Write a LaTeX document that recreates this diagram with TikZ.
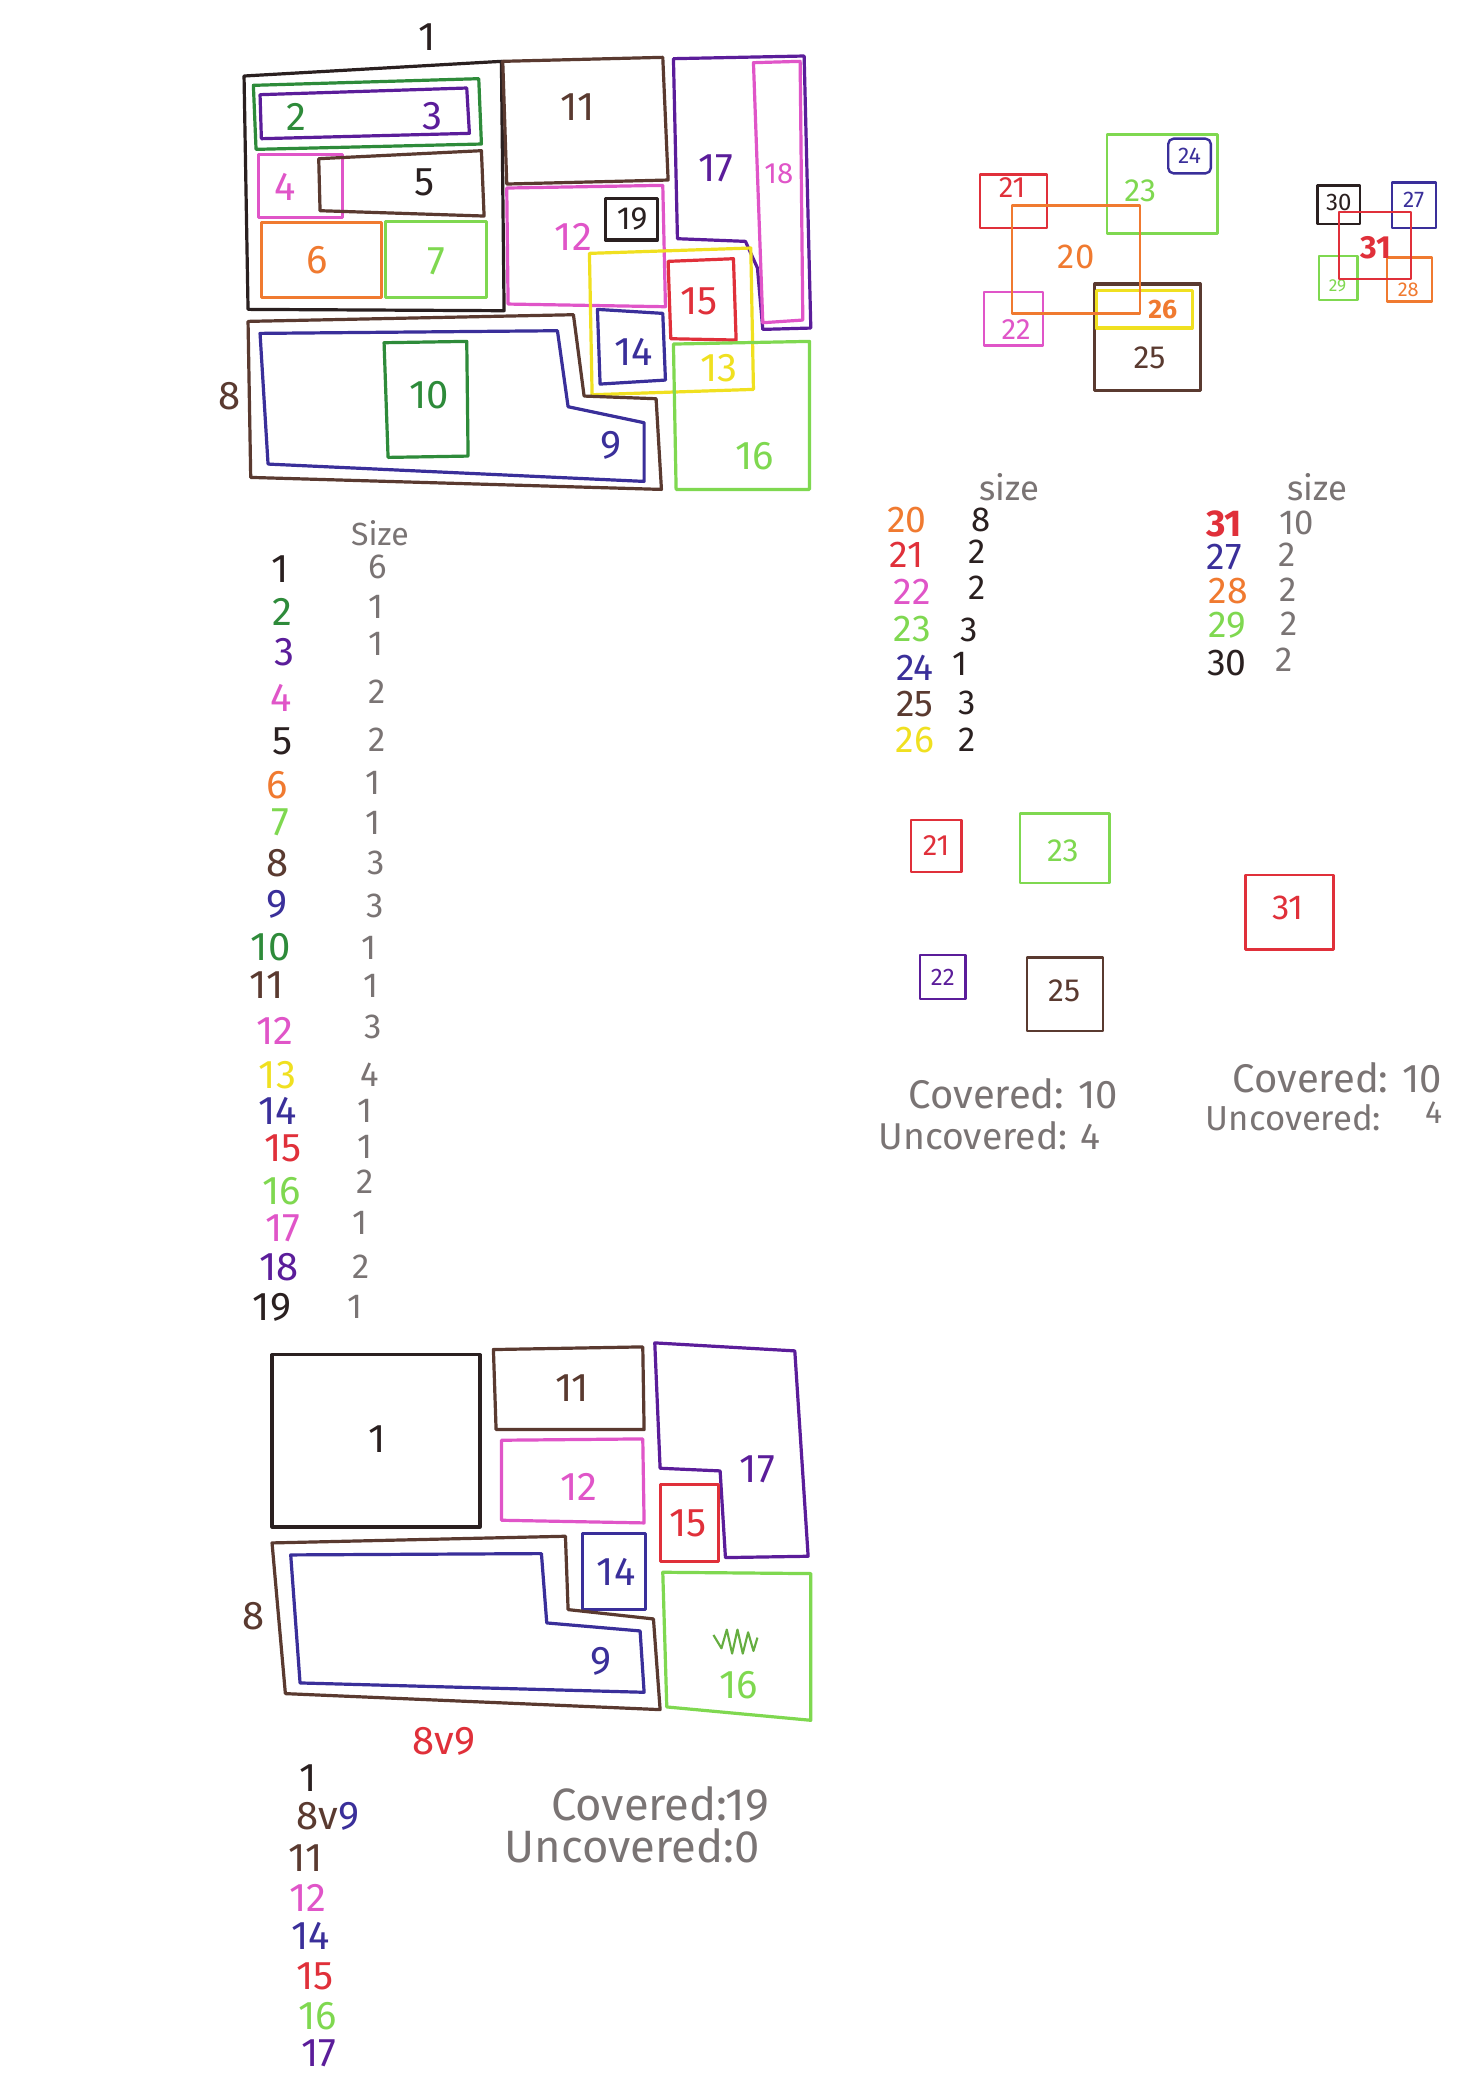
\documentclass[tikz,border=0pt]{standalone}
\usepackage{fontspec}
\setmainfont{Fira Sans}
\newcommand{\myfs}[1]{\fontsize{#1}{#1}\selectfont}
\definecolor{cblack}{HTML}{2A2020}
\definecolor{cbrown}{HTML}{5A3A30}
\definecolor{cdgreen}{HTML}{2E8B3A}
\definecolor{cpurple}{HTML}{5B1D9A}
\definecolor{cindigo}{HTML}{3A2F9A}
\definecolor{cpink}{HTML}{E055C8}
\definecolor{corange}{HTML}{F07A30}
\definecolor{clgreen}{HTML}{7FD850}
\definecolor{cyellow}{HTML}{F0E020}
\definecolor{cred}{HTML}{E0303A}
\definecolor{cgrey}{HTML}{7A7474}
\begin{document}
\begin{tikzpicture}[x=1pt,y=-1pt,
  pen/.style={line width=2.4pt, line join=round, line cap=round},
  thinpen/.style={line width=1.8pt, line join=round, line cap=round},
  lb/.style={inner sep=0pt, font=\myfs{#1}},
  lb/.default=30]
\useasboundingbox (0,0) rectangle (1093,1568);
\fill[white] (0,0) rectangle (1093,1568);

% ================= top-left packing =================
\node[lb,cblack] (t1) at (320,28) {1};
\draw[pen,cblack] (183,57) -- (376,46) -- (378,233) -- (186,232) -- cycle;
\draw[pen,cdgreen] (190,64) -- (359,59) -- (361,108) -- (192,112) -- cycle;
\draw[pen,cpurple] (195,71) -- (350,66) -- (352,100) -- (196,104) -- cycle;
\node[lb,cdgreen] (t2) at (222,88) {2};
\node[lb,cpurple] (t3) at (324,87) {3};
\draw[pen,cpink] (194,116) rectangle (257,163);
\draw[pen,cbrown] (239,119) -- (361,113) -- (363,162) -- (240,158) -- cycle;
\node[lb,cpink] (t4) at (214,140) {4};
\node[lb,cblack] (t5) at (318,137) {5};
\draw[pen,corange] (196,167) rectangle (286,223);
\draw[pen,clgreen] (289,166) rectangle (365,223);
\node[lb,corange] (t6) at (238,195) {6};
\node[lb,clgreen] (t7) at (327,196) {7};

\draw[pen,cbrown] (377,46) -- (497,43) -- (501,135) -- (380,138) -- cycle;
\node[lb,cbrown] (t11) at (433,80) {11};

\draw[pen,cpurple] (505,44) -- (603,42) -- (608,246) -- (572,247) -- (568,201) -- (559,181) -- (508,179) -- cycle;
\draw[pen,cpink] (565,47) -- (600,46) -- (602,240) -- (572,242) -- cycle;
\node[lb,cpurple] (t17) at (537,126) {17};
\node[lb=22,cpink] (t18) at (584,130) {18};

\draw[pen,cpink] (380,141) -- (497,139) -- (499,230) -- (381,228) -- cycle;
\draw[pen,cblack] (454,149) rectangle (493,180);
\node[lb=24,cblack] (t19) at (474,164) {19};
\node[lb,cpink] (t12) at (430,178) {12};

\draw[pen,cyellow] (442,190) -- (563,186) -- (565,292) -- (444,296) -- cycle;
\draw[pen,cred] (501,196) -- (550,194) -- (552,255) -- (503,254) -- cycle;
\node[lb,cred] (t15) at (524,226) {15};
\draw[pen,cindigo] (448,232) -- (497,235) -- (499,285) -- (450,288) -- cycle;
\node[lb,cindigo] (t14) at (475,264) {14};
\draw[pen,clgreen] (505,258) -- (607,256) -- (607,367) -- (507,367) -- cycle;
\node[lb,cyellow] (t13) at (539,276) {13};
\node[lb,clgreen] (t16) at (566,342) {16};

\draw[pen,cbrown] (186,241) -- (430,236) -- (438,297) -- (492,299) -- (496,367) -- (188,358) -- cycle;
\node[lb,cbrown] (t8) at (172,297) {8};
\draw[pen,cindigo] (195,250) -- (418,248) -- (426,305) -- (483,317) -- (483,361) -- (201,348) -- cycle;
\node[lb,cindigo] (t9) at (458,334) {9};
\draw[pen,cdgreen] (288,257) -- (350,256) -- (351,342) -- (291,343) -- cycle;
\node[lb,cdgreen] (t10) at (322,296) {10};

% ================= top-right cluster A =================
\draw[pen,cbrown] (821,213) rectangle (900,293);
\node[lb=24,cbrown] (u25) at (862,268) {25};
\draw[pen,cyellow] (822,218) rectangle (894,246);
\node[lb=20,corange,font=\myfs{20}\bfseries] (u26) at (872,232) {26};
\draw[thinpen,cred] (735,131) rectangle (785,171);
\node[lb=22,cred] (u21) at (759,141) {21};
\draw[thinpen,cpink] (738,219) rectangle (782,259);
\node[lb=22,cpink] (u22) at (762,247) {22};
\draw[thinpen,clgreen] (830,101) rectangle (913,175);
\node[lb=24,clgreen] (u23) at (855,143) {23};
\draw[thinpen,cindigo,rounded corners=4pt] (876,104) rectangle (908,130);
\node[lb=17,cindigo] (u24) at (892,117) {24};
\draw[thinpen,corange] (759,154) rectangle (855,235);
\node[lb=26,corange] (u20) at (807,193) {20};

% ================= top-right cluster B =================
\draw[thinpen,cblack] (988,139) rectangle (1020,168);
\node[lb=18,cblack] (v30) at (1004,152) {30};
\draw[thinpen,cindigo] (1044,137) rectangle (1077,171);
\node[lb=17,cindigo] (v27) at (1060,150) {27};
\draw[thinpen,clgreen] (989,192) rectangle (1018,225);
\node[lb=13,clgreen] (v29) at (1003,214) {29};
\draw[thinpen,corange] (1040,193) rectangle (1074,226);
\node[lb=15,corange] (v28) at (1056,217) {28};
\draw[thinpen,cred] (1004,159) rectangle (1058,209);
\node[lb=24,cred,font=\myfs{24}\bfseries] (v31) at (1032,186) {31};

% ================= left table =================
\node[lb=24,cgrey] (sz1) at (285,400) {Size};
\node[lb,cblack]  (a1)  at (210,427) {1};  \node[lb=26,cgrey] (b1)  at (283,425) {6};
\node[lb,cdgreen] (a2)  at (212,459) {2};  \node[lb=26,cgrey] (b2)  at (282,455) {1};
\node[lb,cpurple] (a3)  at (213,489) {3};  \node[lb=26,cgrey] (b3)  at (282,483) {1};
\node[lb,cpink]   (a4)  at (211,523) {4};  \node[lb=26,cgrey] (b4)  at (283,519) {2};
\node[lb,cblack]  (a5)  at (212,556) {5};  \node[lb=26,cgrey] (b5)  at (283,555) {2};
\node[lb,corange] (a6)  at (208,589) {6};  \node[lb=26,cgrey] (b6)  at (280,587) {1};
\node[lb,clgreen] (a7)  at (210,617) {7};  \node[lb=26,cgrey] (b7)  at (280,617) {1};
\node[lb,cbrown]  (a8)  at (208,647) {8};  \node[lb=26,cgrey] (b8)  at (282,647) {3};
\node[lb,cindigo] (a9)  at (208,678) {9};  \node[lb=26,cgrey] (b9)  at (281,679) {3};
\node[lb,cdgreen] (a10) at (203,710) {10}; \node[lb=26,cgrey] (b10) at (277,711) {1};
\node[lb,cbrown]  (a11) at (200,739) {11}; \node[lb=26,cgrey] (b11) at (278,739) {1};
\node[lb,cpink]   (a12) at (206,773) {12}; \node[lb=26,cgrey] (b12) at (280,770) {3};
\node[lb,cyellow] (a13) at (208,806) {13}; \node[lb=26,cgrey] (b13) at (277,806) {4};
\node[lb,cindigo] (a14) at (208,833) {14}; \node[lb=26,cgrey] (b14) at (274,833) {1};
\node[lb,cred]    (a15) at (212,861) {15}; \node[lb=26,cgrey] (b15) at (274,860) {1};
\node[lb,clgreen] (a16) at (211,893) {16}; \node[lb=26,cgrey] (b16) at (274,886) {2};
\node[lb,cpink]   (a17) at (212,921) {17}; \node[lb=26,cgrey] (b17) at (270,917) {1};
\node[lb,cpurple] (a18) at (209,950) {18}; \node[lb=26,cgrey] (b18) at (271,950) {2};
\node[lb,cblack]  (a19) at (204,980) {19}; \node[lb=26,cgrey] (b19) at (266,980) {1};

% ================= middle table =================
\node[lb=26,cgrey] (sz2) at (757,365) {size};
\node[lb=28,corange] (c20) at (680,390) {20}; \node[lb=26,cblack] (d20) at (736,390) {8};
\node[lb=28,cred]    (c21) at (680,416) {21}; \node[lb=26,cblack] (d21) at (733,414) {2};
\node[lb=28,cpink]   (c22) at (684,444) {22}; \node[lb=26,cblack] (d22) at (733,441) {2};
\node[lb=28,clgreen] (c23) at (684,472) {23}; \node[lb=26,cblack] (d23) at (727,472) {3};
\node[lb=28,cindigo] (c24) at (686,501) {24}; \node[lb=26,cblack] (d24) at (720,498) {1};
\node[lb=28,cbrown]  (c25) at (686,528) {25}; \node[lb=26,cblack] (d25) at (725,527) {3};
\node[lb=28,cyellow] (c26) at (686,555) {26}; \node[lb=26,cblack] (d26) at (725,555) {2};

% ================= right table =================
\node[lb=26,cgrey] (sz3) at (988,365) {size};
\node[lb=28,cred,font=\myfs{28}\bfseries] (e31) at (918,393) {31}; \node[lb=26,cgrey] (f31) at (972,392) {10};
\node[lb=28,cindigo] (e27) at (918,418) {27}; \node[lb=26,cgrey] (f27) at (965,416) {2};
\node[lb=28,corange] (e28) at (921,443) {28}; \node[lb=26,cgrey] (f28) at (966,442) {2};
\node[lb=28,clgreen] (e29) at (920,469) {29}; \node[lb=26,cgrey] (f29) at (967,468) {2};
\node[lb=28,cblack]  (e30) at (920,497) {30}; \node[lb=26,cgrey] (f30) at (963,495) {2};

% ================= chosen squares =================
\draw[thinpen,cred] (683,615) rectangle (721,654);
\node[lb=22,cred] (g21) at (702,634) {21};
\draw[thinpen,clgreen] (765,610) rectangle (832,662);
\node[lb=24,clgreen] (g23) at (797,638) {23};
\draw[thinpen,cpurple] (690,716) rectangle (724,749);
\node[lb=18,cpurple] (g22) at (707,733) {22};
\draw[thinpen,cbrown] (770,718) rectangle (827,773);
\node[lb=24,cbrown] (g25) at (798,743) {25};
\draw[thinpen,cred] (934,656) rectangle (1000,712);
\node[lb=26,cred] (g31) at (966,681) {31};

\node[lb=30,cgrey] (cov1) at (760,820) {Covered: 10};
\node[lb=28,cgrey] (unc1) at (742,852) {Uncovered: 4};
\node[lb=30,cgrey] (cov2) at (1003,808) {Covered: 10};
\node[lb=26,cgrey] (unc2) at (970,838) {Uncovered:};
\node[lb=24,cgrey] (unc2n) at (1075,834) {4};

% ================= bottom packing =================
\draw[pen,cblack] (204,1016) rectangle (360,1145);
\node[lb,cblack] (h1) at (283,1079) {1};
\draw[pen,cbrown] (370,1012) -- (482,1010) -- (483,1072) -- (372,1072) -- cycle;
\node[lb,cbrown] (h11) at (429,1041) {11};
\draw[pen,cpink] (376,1080) -- (482,1079) -- (483,1142) -- (376,1140) -- cycle;
\node[lb,cpink] (h12) at (434,1115) {12};
\draw[pen,cpurple] (491,1007) -- (596,1013) -- (606,1167) -- (544,1168) -- (540,1103) -- (495,1101) -- cycle;
\node[lb,cpurple] (h17) at (568,1102) {17};
\draw[pen,cred] (495,1113) rectangle (539,1171);
\node[lb,cred] (h15) at (516,1142) {15};
\draw[pen,cindigo] (437,1150) rectangle (484,1207);
\node[lb,cindigo] (h14) at (462,1179) {14};
\draw[pen,clgreen] (497,1179) -- (608,1180) -- (608,1290) -- (500,1280) -- cycle;
\node[lb,clgreen] (h16) at (554,1264) {16};
\draw[line width=1.6pt,clgreen!80!black,line join=round]
  (535,1226) -- (541,1236) -- (545,1222) -- (549,1240) -- (553,1222) -- (557,1240) -- (561,1224) -- (565,1238) -- (568,1228);
\draw[pen,cbrown] (204,1157) -- (424,1152) -- (426,1207) -- (490,1214) -- (495,1282) -- (214,1270) -- cycle;
\node[lb,cbrown] (h8) at (190,1212) {8};
\draw[pen,cindigo] (218,1166) -- (406,1165) -- (410,1217) -- (480,1223) -- (483,1269) -- (225,1262) -- cycle;
\node[lb,cindigo] (h9) at (451,1246) {9};

\node[lb,cred] (k89) at (333,1306) {8v9};
\node[lb,cblack] (m1) at (231,1333) {1};
\node[lb,cbrown] (m8) at (238,1362) {8v};
\node[lb,cindigo,anchor=west] (m9) at (m8.east) {9};
\node[lb,cbrown] (m11) at (229,1393) {11};
\node[lb,cpink] (m12) at (231,1423) {12};
\node[lb,cindigo] (m14) at (233,1452) {14};
\node[lb,cred] (m15) at (236,1482) {15};
\node[lb,clgreen] (m16) at (238,1512) {16};
\node[lb,cpurple] (m17) at (239,1540) {17};
\node[lb=34,cgrey] (cov3) at (495,1353) {Covered:19};
\node[lb=34,cgrey] (unc3) at (474,1384) {Uncovered:0};
\end{tikzpicture}
\end{document}
